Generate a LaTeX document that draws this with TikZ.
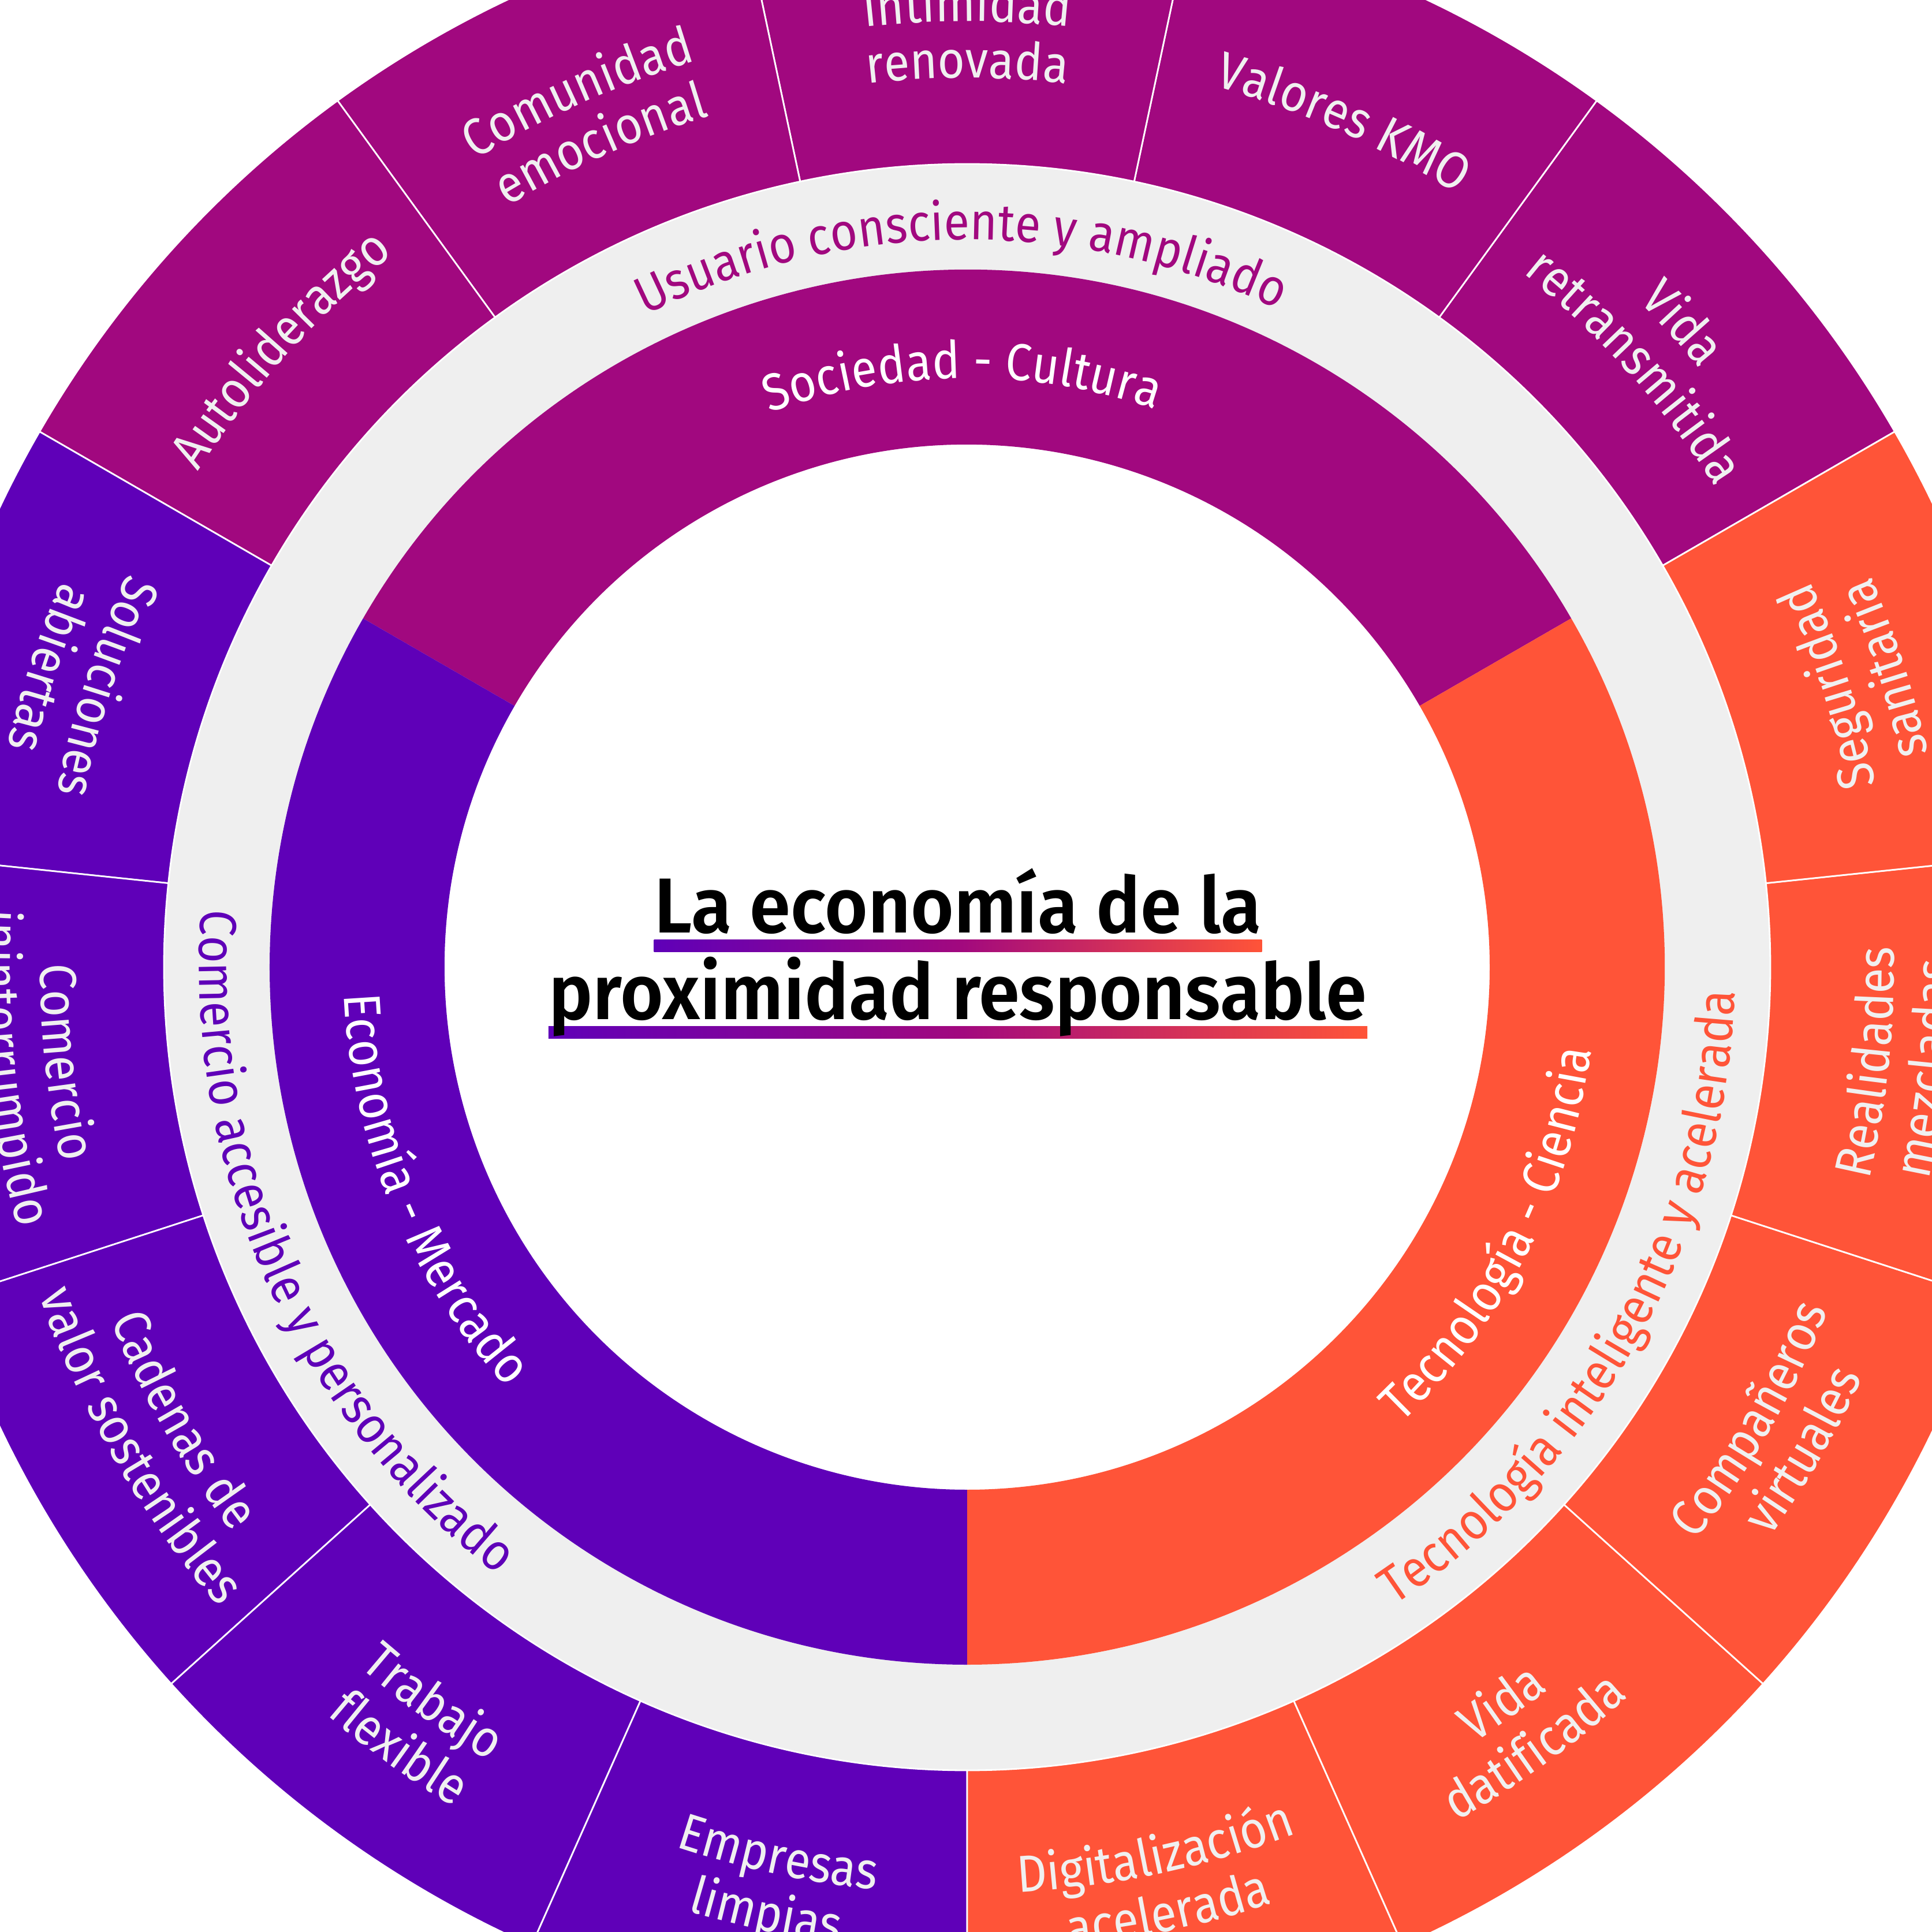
\documentclass[tikz,border=0pt]{standalone}
\usepackage{fontspec}
\setmainfont{Fira Sans}[FakeStretch=0.9]
\IfFontExistsTF{Fira Sans SemiBold}{\newfontfamily\titlefont{Fira Sans SemiBold}[FakeStretch=0.95]}{%
  \IfFontExistsTF{Fira Sans Medium}{\newfontfamily\titlefont{Fira Sans Medium}[FakeStretch=0.97]}{\newcommand\titlefont{\bfseries}}}
\usetikzlibrary{decorations.text}
\definecolor{purp}{HTML}{A1087F}
\definecolor{viol}{HTML}{5F00B8}
\definecolor{orng}{HTML}{FF5438}
\definecolor{ringgray}{HTML}{EFEFEF}
\definecolor{lbl}{HTML}{F0F0F0}
\newcommand\labfont{\fontsize{25.6pt}{30pt}\selectfont}
% clockwise arc text (letter tops outward)
\newcommand\cwlabel[4]{%
  \path[decorate,decoration={text along path,text align=center,text={|\labfont\color{#3}|#4}}]
    (#1+50:#2) arc[start angle={#1+50},end angle={#1-50},radius=#2];}
% counter-clockwise arc text (letter tops inward)
\newcommand\ccwlabel[4]{%
  \path[decorate,decoration={text along path,text align=center,text={|\labfont\color{#3}|#4}}]
    (#1-50:#2) arc[start angle={#1-50},end angle={#1+50},radius=#2];}
\pgfdeclarelayer{back}
\pgfsetlayers{back,main}
\tikzset{
  sep/.style={draw=white,line width=0.028cm},
  titlestyle/.style={anchor=base,inner sep=0pt,text=black,font=\titlefont\fontsize{38.4pt}{46pt}\selectfont},
  uline/.style={left color=viol,right color=orng,middle color=purp}
}
\begin{document}
\begin{tikzpicture}
\useasboundingbox (-16.75,-16.71) rectangle (16.71,16.75);
\clip (-16.75,-16.71) rectangle (16.71,16.75);
\begin{pgfonlayer}{back}
\fill[white] (-16.75,-16.71) rectangle (16.71,16.75);
\end{pgfonlayer}
% gray ring
\fill[ringgray,even odd rule] (0,0) circle[radius=13.91] (0,0) circle[radius=12.08];
% outer ring sectors
\foreach \a/\c in {30/purp,54/purp,78/purp,102/purp,126/purp,150/viol,174/viol,198/viol,222/viol,246/viol,270/orng,294/orng,318/orng,342/orng,366/orng}
  \filldraw[fill=\c,sep] (\a:13.91) arc[start angle=\a,end angle=\a+24,radius=13.91] -- (\a+24:18.55) arc[start angle=\a+24,end angle=\a,radius=18.55] -- cycle;
% middle ring
\fill[purp] (30:9.05) arc[start angle=30,end angle=150,radius=9.05] -- (150:12.08) arc[start angle=150,end angle=30,radius=12.08] -- cycle;
\fill[viol] (150:9.05) arc[start angle=150,end angle=270,radius=9.05] -- (270:12.08) arc[start angle=270,end angle=150,radius=12.08] -- cycle;
\fill[orng] (270:9.05) arc[start angle=270,end angle=390,radius=9.05] -- (390:12.08) arc[start angle=390,end angle=270,radius=12.08] -- cycle;
% middle ring labels
\cwlabel{90.5}{10.2}{white}{Sociedad - Cultura}
\ccwlabel{202.5}{10.8}{white}{Economía - Mercado}
\ccwlabel{333}{10.9}{white}{Tecnología - Ciencia}
% gray ring labels
\cwlabel{90.5}{12.6}{purp}{Usuario consciente y ampliado}
\ccwlabel{204}{13.3}{viol}{Comercio accesible y personalizado}
\ccwlabel{331}{13.3}{orng}{Tecnología inteligente y acelerada}
% outer labels, top group
\cwlabel{42}{16.38}{lbl}{Vida}
\cwlabel{42}{15.40}{lbl}{retransmitida}
\cwlabel{66}{15.85}{lbl}{Valores KMO}
\cwlabel{90}{16.38}{lbl}{Intimidad}
\cwlabel{90}{15.40}{lbl}{renovada}
\cwlabel{114}{16.38}{lbl}{Comunidad}
\cwlabel{114}{15.40}{lbl}{emocional}
\cwlabel{138}{15.85}{lbl}{Autoliderazgo}
% outer labels, lower groups
\ccwlabel{162}{16.05}{lbl}{Soluciones}
\ccwlabel{162}{17.05}{lbl}{abiertas}
\ccwlabel{186}{16.05}{lbl}{Comercio}
\ccwlabel{186}{17.05}{lbl}{ininterrumpido}
\ccwlabel{210}{16.05}{lbl}{Cadenas de}
\ccwlabel{210}{17.05}{lbl}{valor sostenibles}
\ccwlabel{234}{16.05}{lbl}{Trabajo}
\ccwlabel{234}{17.05}{lbl}{flexible}
\ccwlabel{258}{16.05}{lbl}{Empresas}
\ccwlabel{258}{17.05}{lbl}{limpias}
\ccwlabel{282}{16.05}{lbl}{Digitalización}
\ccwlabel{282}{17.05}{lbl}{acelerada}
\ccwlabel{306}{16.05}{lbl}{Vida}
\ccwlabel{306}{17.05}{lbl}{datificada}
\ccwlabel{330}{16.05}{lbl}{Compañeros}
\ccwlabel{330}{17.05}{lbl}{virtuales}
\ccwlabel{354}{16.05}{lbl}{Realidades}
\ccwlabel{354}{17.05}{lbl}{mezcladas}
\ccwlabel{18}{16.05}{lbl}{Seguridad}
\ccwlabel{18}{17.05}{lbl}{sanitaria}
% title
\node[titlestyle] (title1) at (-0.16,0.59) {La economía de la};
\node[titlestyle] (title2) at (-0.16,-0.91) {proximidad responsable};
\begin{pgfonlayer}{back}
\shade[uline] ([yshift=-0.12cm]title1.base west) rectangle ([yshift=-0.33cm]title1.base east);
\shade[uline] ([yshift=-0.12cm]title2.base west) rectangle ([yshift=-0.33cm]title2.base east);
\end{pgfonlayer}
\end{tikzpicture}
\end{document}
